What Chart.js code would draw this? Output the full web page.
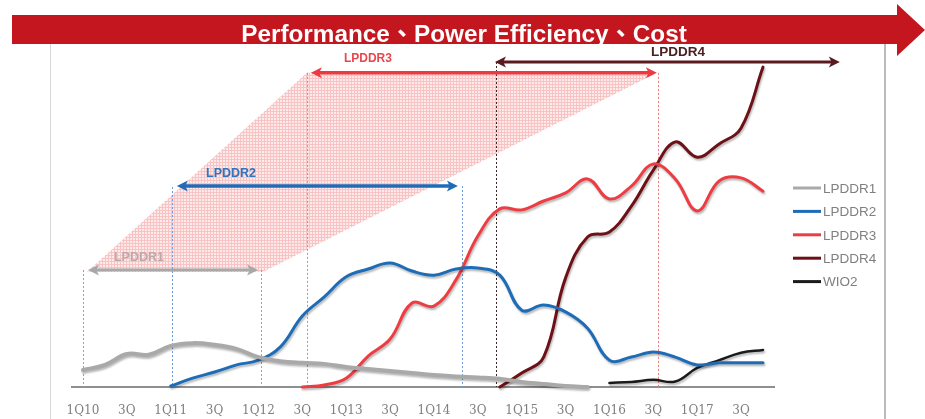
<!DOCTYPE html>
<html><head><meta charset="utf-8">
<script src="https://cdn.jsdelivr.net/npm/chart.js@4.4.0/dist/chart.umd.min.js"></script>
<style>html,body{margin:0;padding:0;background:#fff;}canvas{display:block;}</style>
</head><body>
<canvas id="c" width="925" height="419"></canvas>
<script>
// ---- categories (quarters) ----
const quarters = ['1Q10','2Q10','3Q10','4Q10','1Q11','2Q11','3Q11','4Q11',
                  '1Q12','2Q12','3Q12','4Q12','1Q13','2Q13','3Q13','4Q13',
                  '1Q14','2Q14','3Q14','4Q14','1Q15','2Q15','3Q15','4Q15',
                  '1Q16','2Q16','3Q16','4Q16','1Q17','2Q17','3Q17','4Q17'];
// ---- tick labels shown on the axis ----
const tickLabels = ['1Q10','','3Q','','1Q11','','3Q','',
                    '1Q12','','3Q','','1Q13','','3Q','',
                    '1Q14','','3Q','','1Q15','','3Q','',
                    '1Q16','','3Q','','1Q17','','3Q',''];
// ---- series values ----
const lpddr1 = [5.0,6.5,9.7,9.5,12.1,12.9,12.4,11.2,8.8,7.6,7.1,6.8,5.9,5.3,4.7,4.1,
                3.5,3.1,2.8,2.4,1.5,0.9,0.3,0,null,null,null,null,null,null,null,null];
const lpddr2 = [null,null,null,null,0.3,2.6,4.4,6.5,7.9,11.8,20.9,26.5,32.4,34.7,36.5,34.1,
                32.9,34.7,35.0,32.9,22.6,24.1,22.1,17.3,7.9,8.8,10.3,8.8,6.5,7.1,7.1,7.1];
const lpddr3 = [null,null,null,null,null,null,null,null,null,null,0,0.6,2.6,9.1,14.1,24.7,
                23.8,31.5,44.4,52.4,52.1,54.7,57.1,61.2,55.3,59.1,65.6,61.2,51.8,60.6,61.5,57.6];
const lpddr4 = [null,null,null,null,null,null,null,null,null,null,null,null,null,null,null,null,
                null,null,null,0,4.1,8.8,32.1,44.1,45.6,53.2,63.8,72.1,67.6,71.5,76.2,94.1];
const wio2   = [null,null,null,null,null,null,null,null,null,null,null,null,null,null,null,null,
                null,null,null,null,null,null,null,null,1.2,1.5,2.1,1.6,5.6,7.9,10.1,10.9];
const seriesNames = ['LPDDR1','LPDDR2','LPDDR3','LPDDR4','WIO2'];
const titleText = 'Performance、Power Efficiency、Cost';

// ---- annotation settings (in axis units: quarter index / value) ----
const guideLines = [
  {x:0,     top:34.4, color:'#a0a0a0'},
  {x:4.06,  top:58.8, color:'#6b9ad6'},
  {x:8.11,  top:34.4, color:'#a0a0a0'},
  {x:10.21, top:92.4, color:'#f27a7a'},
  {x:17.27, top:59.1, color:'#6b9ad6'},
  {x:18.82, top:95.6, color:'#3b2323'},
  {x:26.21, top:92.4, color:'#f27a7a'}
];
const spans = [
  {name:'LPDDR1', from:0.23,  to:7.98,  y:34.4, color:'#a8a8a8', w:3,   lx:2.55,  ly:38.2, lcolor:'#bcaaaa', lsize:12.5},
  {name:'LPDDR2', from:4.28,  to:17.09, y:59.1, color:'#1f6bb8', w:3.5, lx:6.75,  ly:62.9, lcolor:'#2e74be', lsize:12.5},
  {name:'LPDDR3', from:10.39, to:26.16, y:92.4, color:'#ec3a40', w:3.5, lx:12.99, ly:96.5, lcolor:'#e8474d', lsize:12},
  {name:'LPDDR4', from:18.78, to:34.5,  y:95.6, color:'#5a1a1e', w:3,   lx:27.12, ly:98.4, lcolor:'#4a2222', lsize:13.5}
];
const band = [[0.18,33.8],[8.2,33.8],[26.16,92.4],[10.21,92.4]];

const colors = ['#a9a9a9','#1d6cb8','#ee3d42','#6e1116','#1a1a1a'];
const widths = [4,3,3,3,2.5];

function makePattern(ctx){
  const p = document.createElement('canvas'); p.width = 3; p.height = 3;
  const c = p.getContext('2d');
  c.fillStyle = '#feeaea'; c.fillRect(0,0,3,3);
  c.fillStyle = '#f7c3c3'; c.fillRect(0,0,3,1); c.fillRect(0,0,1,3);
  return ctx.createPattern(p,'repeat');
}

function arrowHead(ctx, x, y, dir, len, half){
  ctx.beginPath();
  ctx.moveTo(x, y);
  ctx.lineTo(x - dir*len, y - half);
  ctx.lineTo(x - dir*len*0.75, y);
  ctx.lineTo(x - dir*len, y + half);
  ctx.closePath();
  ctx.fill();
}

const overlay = {
  id:'overlay',
  beforeDraw(chart){
    const ctx = chart.ctx;
    ctx.save();
    ctx.fillStyle = '#fff'; ctx.fillRect(0,0,chart.width,chart.height);
    ctx.strokeStyle = '#d6d6d6'; ctx.lineWidth = 1;
    ctx.beginPath(); ctx.moveTo(50.5,44); ctx.lineTo(50.5,chart.height); ctx.stroke();
    ctx.strokeStyle = '#a4a4a4'; ctx.lineWidth = 1.5;
    ctx.beginPath(); ctx.moveTo(885,44); ctx.lineTo(885,chart.height); ctx.stroke();
    ctx.restore();
  },
  beforeDatasetsDraw(chart){
    const ctx = chart.ctx, xs = chart.scales.x, ys = chart.scales.y;
    const X = v => xs.getPixelForValue(v), Y = v => ys.getPixelForValue(v);
    ctx.save();
    // shaded band
    ctx.fillStyle = makePattern(ctx);
    ctx.beginPath();
    band.forEach((p,i)=>{ i ? ctx.lineTo(X(p[0]),Y(p[1])) : ctx.moveTo(X(p[0]),Y(p[1])); });
    ctx.closePath(); ctx.fill();
    // dotted guide lines
    ctx.lineWidth = 1; ctx.setLineDash([2,2]);
    guideLines.forEach(g=>{
      ctx.strokeStyle = g.color;
      const x = Math.round(X(g.x))+0.5;
      ctx.beginPath(); ctx.moveTo(x, Y(g.top)); ctx.lineTo(x, Y(0)); ctx.stroke();
    });
    ctx.setLineDash([]);
    // span arrows
    spans.forEach(s=>{
      const x1 = X(s.from), x2 = X(s.to), y = Y(s.y);
      ctx.strokeStyle = s.color; ctx.fillStyle = s.color; ctx.lineWidth = s.w;
      ctx.beginPath(); ctx.moveTo(x1+6, y); ctx.lineTo(x2-6, y); ctx.stroke();
      arrowHead(ctx, x2, y, 1, 11, 5.5);
      arrowHead(ctx, x1, y, -1, 11, 5.5);
      ctx.font = 'bold ' + s.lsize + 'px "Liberation Sans", Arial, sans-serif';
      ctx.textAlign = 'center'; ctx.textBaseline = 'middle';
      ctx.fillStyle = s.lcolor;
      ctx.fillText(s.name, X(s.lx), Y(s.ly));
    });
    ctx.restore();
  },
  beforeDatasetDraw(chart){
    const ctx = chart.ctx;
    ctx.save();
    ctx.shadowColor = 'rgba(0,0,0,0.28)';
    ctx.shadowBlur = 2; ctx.shadowOffsetX = 1; ctx.shadowOffsetY = 2;
  },
  afterDatasetDraw(chart){ chart.ctx.restore(); },
  afterDraw(chart){
    const ctx = chart.ctx, area = chart.chartArea;
    ctx.save();
    // legend
    const lx = area.right + 19;
    chart.data.datasets.forEach((d,i)=>{
      const y = 188 + i*23.4;
      ctx.strokeStyle = d.borderColor; ctx.lineWidth = 3;
      ctx.beginPath(); ctx.moveTo(lx, y); ctx.lineTo(lx+28, y); ctx.stroke();
      ctx.fillStyle = '#808080';
      ctx.font = '13.5px "Liberation Sans", Arial, sans-serif';
      ctx.textAlign = 'left'; ctx.textBaseline = 'middle';
      ctx.fillText(d.label, lx+30, y+1);
    });
    // banner arrow
    ctx.fillStyle = '#c3161f';
    ctx.beginPath();
    ctx.moveTo(12,15); ctx.lineTo(897,15); ctx.lineTo(897,4); ctx.lineTo(925,30);
    ctx.lineTo(897,56); ctx.lineTo(897,44); ctx.lineTo(12,44); ctx.closePath(); ctx.fill();
    ctx.fillStyle = '#ffffff';
    ctx.font = 'bold 20px "Liberation Sans", Arial, "Noto Sans CJK TC", sans-serif';
    let w = ctx.measureText(titleText).width;
    const size = 20 * 446 / w;
    ctx.font = 'bold ' + size.toFixed(1) + 'px "Liberation Sans", Arial, "Noto Sans CJK TC", sans-serif';
    ctx.textAlign = 'center'; ctx.textBaseline = 'alphabetic';
    ctx.fillText(titleText, 464, 42);
    ctx.restore();
  }
};

const data = [lpddr1, lpddr2, lpddr3, lpddr4, wio2];
new Chart(document.getElementById('c'), {
  type:'line',
  data:{
    labels: quarters,
    datasets: seriesNames.map((n,i)=>({
      label:n, data:data[i], borderColor:colors[i], backgroundColor:colors[i],
      borderWidth:widths[i], pointRadius:0, tension:0.4,
      borderCapStyle:'round', borderJoinStyle:'round', fill:false, spanGaps:false, clip:false
    }))
  },
  options:{
    responsive:false, animation:false, devicePixelRatio:1,
    layout:{padding:{left:72, right:151, top:47, bottom:0}},
    plugins:{legend:{display:false}, tooltip:{enabled:false}},
    scales:{
      x:{
        type:'category', offset:true,
        grid:{display:false},
        border:{display:true, color:'#8f8f8f', width:2},
        ticks:{autoSkip:false, maxRotation:0, minRotation:0, padding:9, color:'#7f7f7f',
               font:{family:'"DejaVu Serif", serif', size:12},
               callback:(v,i)=>tickLabels[i]},
        afterFit:(s)=>{ s.height = 32; }
      },
      y:{display:false, min:0, max:100}
    }
  },
  plugins:[overlay]
});
</script>
</body></html>
